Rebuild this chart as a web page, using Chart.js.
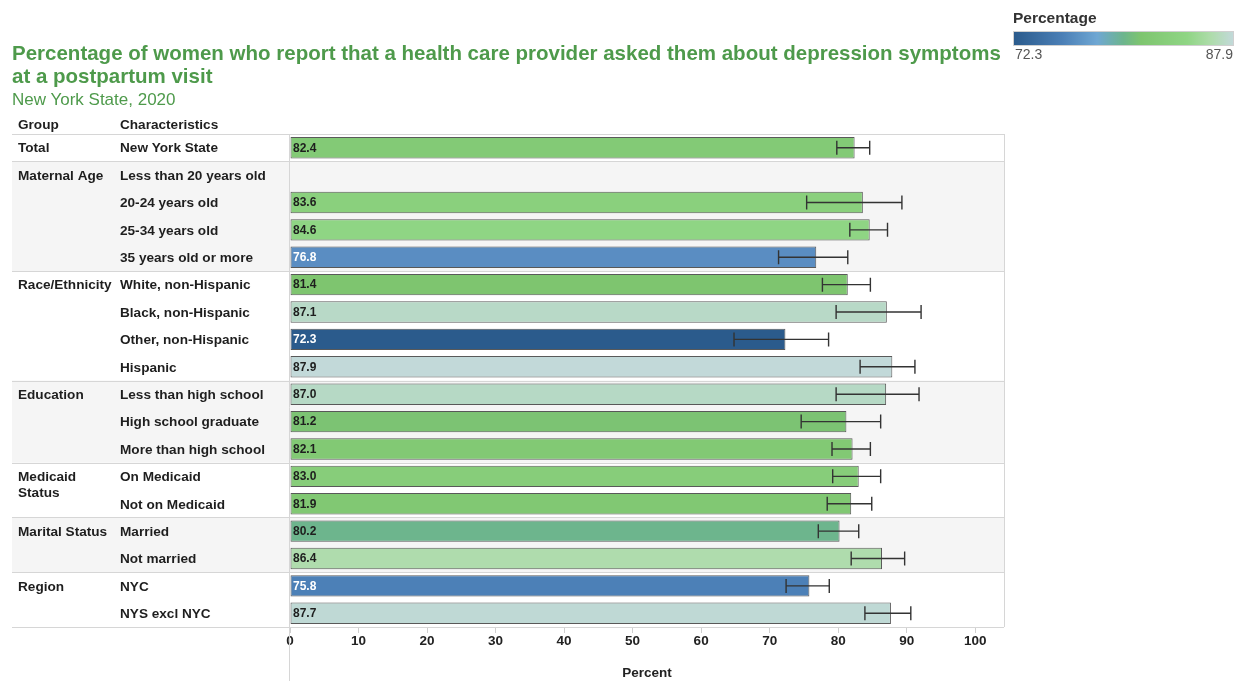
<!DOCTYPE html>
<html>
<head>
<meta charset="utf-8">
<script src="https://cdn.jsdelivr.net/npm/chart.js@4"></script>
<style>
  html, body { margin:0; padding:0; background:#fff; }
  body { width:1242px; height:681px; position:relative; overflow:hidden; font-family:"Liberation Sans", Arial, sans-serif; }
  #c { position:absolute; left:0; top:0; }
  .title { position:absolute; left:12px; top:41px; font-size:20.5px; font-weight:bold; line-height:23px; color:#4e9a4b; white-space:nowrap; }
  .subtitle { position:absolute; left:12px; top:90px; font-size:17px; color:#4e9a4b; white-space:nowrap; }
  .lg-title { position:absolute; left:1013px; top:9px; font-size:15.5px; font-weight:bold; color:#333; }
  .lg-bar { position:absolute; left:1013px; top:31px; width:219px; height:13px; border:1px solid #d0d0d0;
    background:linear-gradient(to right,#2b5b8c 0%,#4b7fb6 22%,#6fa7d3 38%,#6db58d 50%,#7ec56f 58%,#8fd584 79%,#aedcab 90%,#c2d9d9 100%); }
  .lg-lo { position:absolute; left:1015px; top:46px; font-size:14px; color:#555; }
  .lg-hi { position:absolute; left:1183px; width:50px; text-align:right; top:46px; font-size:14px; color:#555; }
</style>
</head>
<body>
<canvas id="c" width="1242" height="681"></canvas>
<div class="title">Percentage of women who report that a health care provider asked them about depression symptoms<br>at a postpartum visit</div>
<div class="subtitle">New York State, 2020</div>
<div class="lg-title">Percentage</div>
<div class="lg-bar"></div>
<div class="lg-lo">72.3</div>
<div class="lg-hi">87.9</div>
<script>
// ---------------- data ----------------
const groupNames = ['Total', 'Maternal Age', 'Race/Ethnicity', 'Education', ['Medicaid', 'Status'], 'Marital Status', 'Region'];
const groupRowCounts = [1, 4, 4, 3, 2, 2, 2];
const characteristics = [
  'New York State',
  'Less than 20 years old', '20-24 years old', '25-34 years old', '35 years old or more',
  'White, non-Hispanic', 'Black, non-Hispanic', 'Other, non-Hispanic', 'Hispanic',
  'Less than high school', 'High school graduate', 'More than high school',
  'On Medicaid', 'Not on Medicaid',
  'Married', 'Not married',
  'NYC', 'NYS excl NYC'
];
const percent = [82.4, null, 83.6, 84.6, 76.8, 81.4, 87.1, 72.3, 87.9, 87.0, 81.2, 82.1, 83.0, 81.9, 80.2, 86.4, 75.8, 87.7];
const ciLow   = [79.8, null, 75.4, 81.7, 71.3, 77.7, 79.7, 64.8, 83.2, 79.7, 74.6, 79.1, 79.2, 78.4, 77.1, 81.9, 72.4, 83.9];
const ciHigh  = [84.6, null, 89.3, 87.2, 81.4, 84.7, 92.1, 78.6, 91.2, 91.8, 86.2, 84.7, 86.2, 84.9, 83.0, 89.7, 78.7, 90.6];
const xTickValues = [0, 10, 20, 30, 40, 50, 60, 70, 80, 90, 100];
const colorMin = 72.3, colorMax = 87.9;

// ---------------- colour scale ----------------
const stops = [
  [0.00, '#2b5b8c'], [0.22, '#4b7fb6'], [0.29, '#5a8dc2'], [0.38, '#6fa7d3'],
  [0.506, '#6db58d'], [0.58, '#7ec56f'], [0.79, '#8fd584'], [0.90, '#aedcab'],
  [0.94, '#b6d9c4'], [1.00, '#c2d9d9']
];
function hex(h){ return [1,3,5].map(i => parseInt(h.substr(i,2),16)); }
function colorFor(v){
  if (v == null) return 'rgba(0,0,0,0)';
  let t = (v - colorMin) / (colorMax - colorMin);
  t = Math.max(0, Math.min(1, t));
  for (let i = 1; i < stops.length; i++) {
    if (t <= stops[i][0]) {
      const a = stops[i-1], b = stops[i];
      const f = (t - a[0]) / (b[0] - a[0]);
      const ca = hex(a[1]), cb = hex(b[1]);
      const c = ca.map((x, k) => Math.round(x + (cb[k] - x) * f));
      return `rgb(${c[0]},${c[1]},${c[2]})`;
    }
  }
  return stops[stops.length-1][1];
}

const FONT = '"Liberation Sans", Arial, sans-serif';
const LEFT_EDGE = 12;

const decor = {
  id: 'decor',
  beforeDraw(chart) {
    const ctx = chart.ctx, y = chart.scales.y, area = chart.chartArea;
    const step = y.getPixelForValue(1) - y.getPixelForValue(0);
    ctx.save();
    let idx = 0;
    groupRowCounts.forEach((n, g) => {
      const top = y.getPixelForValue(idx) - step / 2;
      const bot = y.getPixelForValue(idx + n - 1) + step / 2;
      if (g % 2 === 1) {
        ctx.fillStyle = '#f5f5f5';
        ctx.fillRect(LEFT_EDGE, top, area.right - LEFT_EDGE, bot - top);
      }
      idx += n;
    });
    ctx.restore();
  },
  afterDatasetsDraw(chart) {
    const ctx = chart.ctx, y = chart.scales.y, x = chart.scales.x, area = chart.chartArea;
    const step = y.getPixelForValue(1) - y.getPixelForValue(0);
    ctx.save();
    // separators
    ctx.strokeStyle = '#d6d6d6';
    ctx.lineWidth = 1;
    let idx = 0;
    const lines = [];
    groupRowCounts.forEach(n => { lines.push(y.getPixelForValue(idx) - step / 2); idx += n; });
    lines.push(y.getPixelForValue(idx - 1) + step / 2);
    lines.forEach(py => {
      ctx.beginPath(); ctx.moveTo(LEFT_EDGE, Math.round(py) + 0.5); ctx.lineTo(area.right, Math.round(py) + 0.5); ctx.stroke();
    });
    ctx.beginPath(); ctx.moveTo(Math.round(area.right) + 0.5, area.top); ctx.lineTo(Math.round(area.right) + 0.5, area.bottom); ctx.stroke();
    ctx.beginPath(); ctx.moveTo(Math.round(area.left) - 0.5, area.top); ctx.lineTo(Math.round(area.left) - 0.5, chart.height); ctx.stroke();

    // error bars
    ctx.strokeStyle = '#333';
    ctx.lineWidth = 1.4;
    percent.forEach((v, i) => {
      if (v == null) return;
      const py = y.getPixelForValue(i);
      const x0 = x.getPixelForValue(ciLow[i]), x1 = x.getPixelForValue(ciHigh[i]);
      ctx.beginPath();
      ctx.moveTo(x0, py); ctx.lineTo(x1, py);
      ctx.moveTo(x0, py - 7); ctx.lineTo(x0, py + 7);
      ctx.moveTo(x1, py - 7); ctx.lineTo(x1, py + 7);
      ctx.stroke();
    });

    // value labels
    ctx.font = 'bold 12px ' + FONT;
    ctx.textBaseline = 'middle';
    ctx.textAlign = 'left';
    percent.forEach((v, i) => {
      if (v == null) return;
      ctx.fillStyle = v < 78 ? '#ffffff' : '#1e1e1e';
      ctx.fillText(v.toFixed(1), area.left + 3, y.getPixelForValue(i) + 0.5);
    });

    // group labels and header
    ctx.fillStyle = '#1e1e1e';
    ctx.font = 'bold 13.6px ' + FONT;
    idx = 0;
    groupRowCounts.forEach((n, g) => {
      const py = y.getPixelForValue(idx) + 1;
      const lbl = Array.isArray(groupNames[g]) ? groupNames[g] : [groupNames[g]];
      lbl.forEach((s, k) => ctx.fillText(s, 18, py + k * 16));
      idx += n;
    });
    ctx.fillText('Group', 18, area.top - 9);
    ctx.fillText('Characteristics', 120, area.top - 9);
    ctx.restore();
  }
};

new Chart(document.getElementById('c'), {
  type: 'bar',
  data: {
    labels: characteristics,
    datasets: [{
      data: percent,
      backgroundColor: percent.map(colorFor),
      borderColor: 'rgba(60,60,60,0.85)',
      borderWidth: 1,
      borderSkipped: false,
      barPercentage: 0.78,
      categoryPercentage: 1
    }]
  },
  options: {
    indexAxis: 'y',
    responsive: false,
    animation: false,
    devicePixelRatio: 1,
    layout: { padding: { left: 120, right: 238, top: 134, bottom: 0 } },
    plugins: { legend: { display: false }, tooltip: { enabled: false } },
    scales: {
      y: {
        type: 'category',
        grid: { display: false },
        border: { display: false },
        afterFit(s) { s.width = 170; },
        ticks: {
          autoSkip: false,
          crossAlign: 'far',
          labelOffset: 1,
          color: '#1e1e1e',
          font: { family: FONT, size: 13.6, weight: 'bold' }
        }
      },
      x: {
        type: 'linear',
        min: 0,
        max: 104.2,
        afterFit(s) { s.height = 54; },
        afterBuildTicks(s) { s.ticks = xTickValues.map(v => ({ value: v })); },
        grid: { display: true, drawOnChartArea: false, drawTicks: true, tickLength: 6, color: '#cfcfcf' },
        border: { display: false },
        ticks: {
          padding: 0,
          color: '#222',
          font: { family: FONT, size: 13.5, weight: 'bold' },
          callback: v => String(v)
        },
        title: {
          display: true,
          text: 'Percent',
          color: '#222',
          font: { family: FONT, size: 13.5, weight: 'bold' },
          padding: { top: 4, bottom: 0 }
        }
      }
    }
  },
  plugins: [decor]
});
</script>
</body>
</html>
